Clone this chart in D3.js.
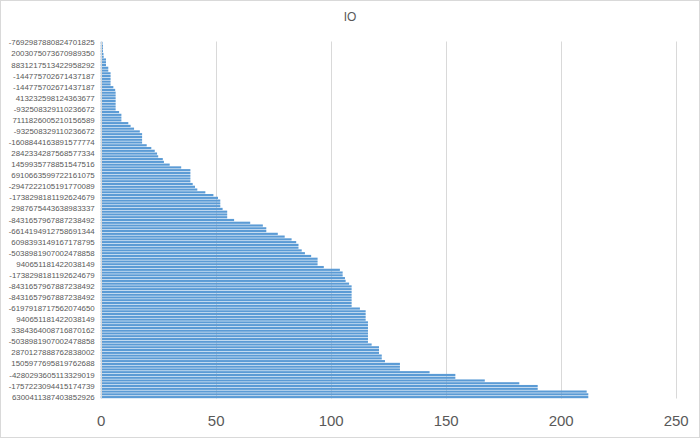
<!DOCTYPE html>
<html>
<head>
<meta charset="utf-8">
<script src="https://cdn.jsdelivr.net/npm/d3@7"></script>
<style>
  html, body { margin: 0; padding: 0; background: #fff; }
  svg { display: block; }
</style>
</head>
<body>
<svg id="chart" width="700" height="438"></svg>
<script>
// Values, top bar to bottom bar (sorted ascending from top)
const values = [
  0.8, 1, 1, 1, 1.2, 1.3, 2.3, 2.3, 2.3, 3.3,
  3.3, 4.3, 4.3, 4.3, 4.3, 4.3, 5.5, 6.3, 6.5, 6.5,
  6.5, 6.5, 6.5, 6.5, 6.5, 8, 9, 9, 9, 12,
  13, 14.5, 17, 18, 18, 18, 18, 20, 22, 23.5,
  24.5, 25, 27, 27.5, 30, 35, 39, 39, 39, 39,
  39, 40, 41, 42, 45.5, 49, 51, 52, 52, 52,
  53, 55, 55, 55, 58, 65, 70.5, 72, 72, 77,
  80, 83, 85, 86, 86, 87.4, 88.8, 91.5, 94.3, 94.3,
  94.3, 97, 104, 105.2, 105.2, 106.2, 106.5, 108, 109.1, 109.1,
  109.1, 109.1, 109.1, 109.1, 109.1, 109.1, 112.7, 115.2, 115.2, 115.2,
  115.2, 116.2, 116.2, 116.2, 116.2, 116.2, 116.2, 116.2, 116.2, 117.8,
  121, 121, 121, 122.2, 122.2, 123.6, 130.1, 130.1, 130.1, 143,
  154.2, 154.2, 167, 182, 190, 190, 211.3, 212, 212
];
// Category labels shown (every 4th category, from top)
const tickLabels = [
  "-7692987880824701825", "2003075073670989350", "8831217513422958292",
  "-144775702671437187", "-144775702671437187", "413232598124363677",
  "-932508329110236672", "7111826005210156589", "-932508329110236672",
  "-1608844163891577774", "2842334287568577334", "1459935778851547516",
  "6910663599722161075", "-2947222105191770089", "-1738298181192624679",
  "2987675443638983337", "-8431657967887238492", "-6614194912758691344",
  "6098393149167178795", "-5038981907002478858", "940651181422038149",
  "-1738298181192624679", "-8431657967887238492", "-8431657967887238492",
  "-6197918717562074650", "940651181422038149", "3384364008716870162",
  "-5038981907002478858", "2870127888762838002", "1505977695819762688",
  "-4280293605113329019", "-1757223094415174739", "6300411387403852926"
];
const xTicks = [0, 50, 100, 150, 200, 250];
const title = "IO";

const svg = d3.select("#chart");
const W = 700, H = 438;
const mLeft = 100.7, mRight = 675.7, mTop = 41.5, mBottom = 398.5;

svg.append("rect").attr("x", 0.5).attr("y", 0.5).attr("width", W - 1).attr("height", H - 1)
  .attr("fill", "#fff").attr("stroke", "#d9d9d9");

const idx = d3.range(values.length);
const x = d3.scaleLinear().domain([0, 250]).range([mLeft, mRight]);
const y = d3.scaleBand().domain(idx).range([mTop, mBottom]).paddingInner(0.22).paddingOuter(0.11);

// gridlines
svg.append("g").selectAll("line").data(xTicks.filter(d => d > 0)).join("line")
  .attr("x1", d => Math.round(x(d)) + 0.5).attr("x2", d => Math.round(x(d)) + 0.5)
  .attr("y1", mTop).attr("y2", mBottom)
  .attr("stroke", "#d9d9d9").attr("stroke-width", 1);

// bars
svg.append("g").selectAll("rect").data(values).join("rect")
  .attr("x", x(0))
  .attr("y", (d, i) => y(i))
  .attr("width", d => x(d) - x(0))
  .attr("height", y.bandwidth())
  .attr("fill", "#5B9BD5");

// category axis line
svg.append("line").attr("x1", Math.round(x(0)) + 0.5).attr("x2", Math.round(x(0)) + 0.5)
  .attr("y1", mTop).attr("y2", mBottom).attr("stroke", "#d9d9d9");

// y axis labels
const yAxis = d3.axisLeft(y)
  .tickValues(idx.filter(i => i % 4 === 0))
  .tickFormat(i => tickLabels[i / 4])
  .tickSize(0).tickPadding(6);
const gy = svg.append("g").attr("transform", `translate(${x(0)},0)`).call(yAxis);
gy.select(".domain").remove();
gy.selectAll("text").attr("fill", "#595959")
  .style("font-family", "'Liberation Sans', Arial, sans-serif").style("font-size", "7.9px");

// x axis labels
const xAxis = d3.axisBottom(x).tickValues(xTicks).tickFormat(d3.format("d")).tickSize(0).tickPadding(0);
const gx = svg.append("g").attr("transform", `translate(0,${mBottom + 17})`).call(xAxis);
gx.select(".domain").remove();
gx.selectAll("text").attr("fill", "#595959")
  .style("font-family", "'Liberation Sans', Arial, sans-serif").style("font-size", "15px");

svg.append("text").attr("x", 350).attr("y", 21).attr("text-anchor", "middle")
  .attr("fill", "#595959")
  .style("font-family", "'Liberation Sans', Arial, sans-serif").style("font-size", "12px")
  .text(title);
</script>
</body>
</html>
